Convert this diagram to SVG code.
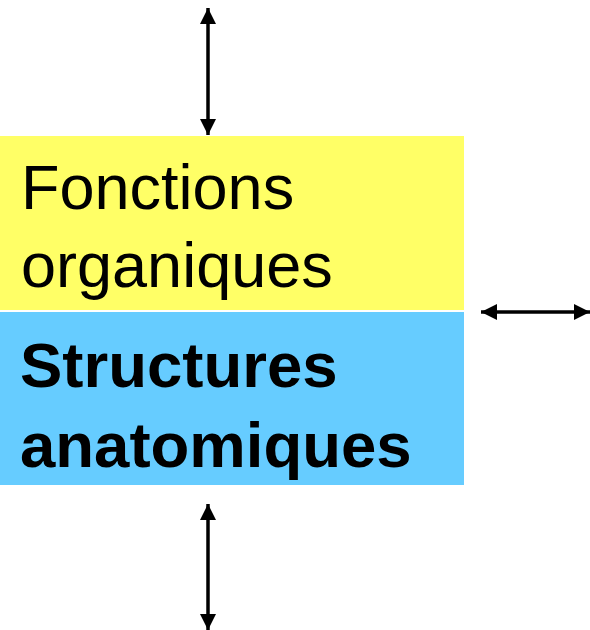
<svg xmlns="http://www.w3.org/2000/svg" width="590" height="630" viewBox="0 0 590 630">
<style>
.t{font-family:"Liberation Sans",Arial,sans-serif;font-size:63px;fill:#000}
.b{font-weight:bold;font-size:63.5px}
.c{stroke:#000;stroke-width:3.5;fill:none}
</style>
<defs>
<marker id="ah" viewBox="0 0 16 16" refX="16" refY="8" markerWidth="16" markerHeight="16" markerUnits="userSpaceOnUse" orient="auto-start-reverse">
<path d="M0,0 L16,8 L0,16 Z" fill="#000"/>
</marker>
</defs>
<rect width="590" height="630" fill="#fff"/>
<g id="fonctions">
<rect x="0" y="136" width="464" height="174" fill="#FFFF66"/>
<text class="t" x="21" y="209">Fonctions</text>
<text class="t" x="21" y="287">organiques</text>
</g>
<g id="structures">
<rect x="0" y="312" width="464" height="173" fill="#66CCFF"/>
<text class="t b" x="20" y="387">Structures</text>
<text class="t b" x="20" y="467">anatomiques</text>
</g>
<g id="connectors">
<line class="c" x1="208" y1="8" x2="208" y2="135" marker-start="url(#ah)" marker-end="url(#ah)"/>
<line class="c" x1="481" y1="312" x2="590" y2="312" marker-start="url(#ah)" marker-end="url(#ah)"/>
<line class="c" x1="208" y1="504" x2="208" y2="630" marker-start="url(#ah)" marker-end="url(#ah)"/>
</g>
</svg>
